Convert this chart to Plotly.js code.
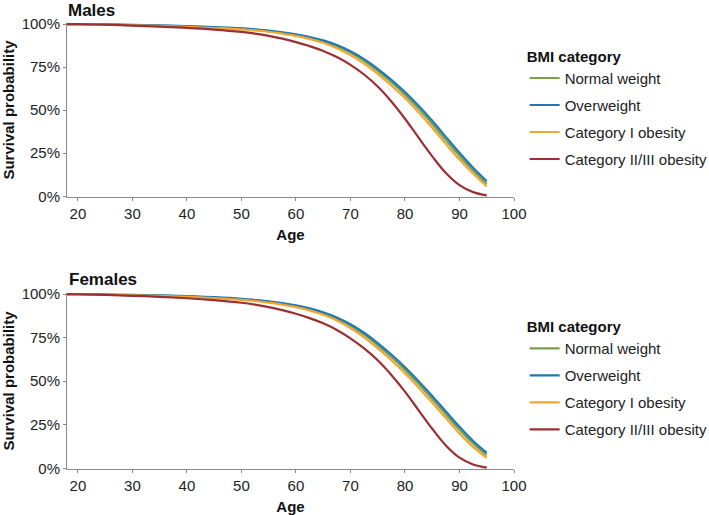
<!DOCTYPE html>
<html>
<head>
<meta charset="utf-8">
<script src="https://cdn.plot.ly/plotly-3.0.1.min.js"></script>
<style>html,body{margin:0;padding:0;background:#fff}#chart{width:709px;height:515px}</style>
</head>
<body>
<div id="chart"></div>
<script>
// ---- data ----
const ages = [18, 20, 25, 30, 35, 40, 45, 50, 52.5, 55, 57.5, 60, 62.5, 65, 67.5, 70, 72.5, 75, 77.5, 80, 82.5, 85, 87.5, 90, 92.5, 95];
const categories = ["Normal weight", "Overweight", "Category I obesity", "Category II/III obesity"];

const maleNormal   = [1, 0.999, 0.997, 0.994, 0.991, 0.987, 0.981, 0.973, 0.967, 0.959, 0.949, 0.937, 0.921, 0.900, 0.871, 0.834, 0.786, 0.728, 0.662, 0.590, 0.508, 0.420, 0.326, 0.234, 0.150, 0.073];
const maleOver     = [1, 0.999, 0.997, 0.995, 0.992, 0.988, 0.982, 0.975, 0.969, 0.962, 0.952, 0.940, 0.925, 0.905, 0.878, 0.842, 0.796, 0.740, 0.676, 0.605, 0.525, 0.438, 0.345, 0.252, 0.165, 0.087];
const maleCat1     = [1, 0.999, 0.996, 0.993, 0.989, 0.984, 0.977, 0.969, 0.963, 0.955, 0.944, 0.931, 0.914, 0.891, 0.860, 0.820, 0.770, 0.710, 0.643, 0.570, 0.487, 0.398, 0.304, 0.213, 0.132, 0.057];
const maleCat23    = [1, 0.999, 0.996, 0.991, 0.985, 0.978, 0.968, 0.954, 0.944, 0.931, 0.915, 0.895, 0.872, 0.844, 0.808, 0.763, 0.707, 0.637, 0.550, 0.450, 0.340, 0.232, 0.135, 0.065, 0.024, 0.005];

const femaleNormal = [1, 0.999, 0.997, 0.994, 0.991, 0.986, 0.980, 0.971, 0.964, 0.955, 0.944, 0.931, 0.913, 0.890, 0.859, 0.818, 0.767, 0.706, 0.639, 0.565, 0.484, 0.398, 0.309, 0.221, 0.142, 0.075];
const femaleOver   = [1, 0.999, 0.997, 0.995, 0.992, 0.988, 0.982, 0.973, 0.966, 0.958, 0.948, 0.935, 0.918, 0.896, 0.866, 0.827, 0.778, 0.719, 0.653, 0.580, 0.500, 0.415, 0.326, 0.238, 0.157, 0.089];
const femaleCat1   = [1, 0.999, 0.996, 0.993, 0.989, 0.984, 0.977, 0.967, 0.960, 0.951, 0.939, 0.925, 0.906, 0.881, 0.848, 0.805, 0.752, 0.689, 0.620, 0.545, 0.463, 0.377, 0.288, 0.200, 0.123, 0.060];
const femaleCat23  = [1, 0.999, 0.995, 0.990, 0.984, 0.976, 0.965, 0.950, 0.939, 0.925, 0.908, 0.887, 0.862, 0.832, 0.794, 0.746, 0.688, 0.620, 0.536, 0.440, 0.333, 0.227, 0.131, 0.061, 0.022, 0.004];

const xTicks = [20, 30, 40, 50, 60, 70, 80, 90, 100];
const yTicks = [0, 0.25, 0.5, 0.75, 1];
const yTickText = ["0%", "25%", "50%", "75%", "100%"];

// ---- styling ----
const colors = ["#77A04A", "#1F78B8", "#F2A531", "#9C2F33"];
const FONT = "Liberation Sans, Arial, Helvetica, sans-serif";
const axisGrey = "#8a8a8a";

const maleSeries = [maleNormal, maleOver, maleCat1, maleCat23];
const femaleSeries = [femaleNormal, femaleOver, femaleCat1, femaleCat23];

const traces = [];
maleSeries.forEach((s, i) => traces.push({
  x: ages, y: s, type: "scatter", mode: "lines", name: categories[i],
  line: {color: colors[i], width: 2.2, shape: "spline", smoothing: 1},
  xaxis: "x", yaxis: "y", legend: "legend", legendgroup: "m" + i
}));
femaleSeries.forEach((s, i) => traces.push({
  x: ages, y: s, type: "scatter", mode: "lines", name: categories[i],
  line: {color: colors[i], width: 2.2, shape: "spline", smoothing: 1},
  xaxis: "x2", yaxis: "y2", legend: "legend2", legendgroup: "f" + i
}));

function xAxis(anchor) {
  return {
    anchor: anchor, domain: [0, 1], range: [18, 100],
    tickvals: xTicks, ticks: "outside", ticklen: 3, tickcolor: axisGrey, tickwidth: 1,
    showline: true, linecolor: axisGrey, linewidth: 1, showgrid: false, zeroline: false,
    tickfont: {family: FONT, size: 15, color: "#222"},
    title: {text: "<b>Age</b>", font: {family: FONT, size: 15, color: "#111"}, standoff: 8},
    automargin: false, fixedrange: true
  };
}
function yAxis(anchor, domain) {
  return {
    anchor: anchor, domain: domain, range: [-0.004, 1.006],
    tickvals: yTicks, ticktext: yTickText, ticks: "outside", ticklen: 3, tickcolor: axisGrey, tickwidth: 1,
    showline: true, linecolor: axisGrey, linewidth: 1, showgrid: false, zeroline: false,
    tickfont: {family: FONT, size: 15, color: "#222"},
    title: {text: "<b>Survival probability</b>", font: {family: FONT, size: 15, color: "#111"}, standoff: 8},
    automargin: false, fixedrange: true
  };
}
function legendCfg(y) {
  return {
    xref: "container", yref: "container",
    x: 0.740, xanchor: "left", y: y, yanchor: "top",
    title: {text: "<b>BMI category</b>", font: {family: FONT, size: 15, color: "#111"}},
    font: {family: FONT, size: 15, color: "#222"},
    traceorder: "grouped", tracegroupgap: 4.5, bgcolor: "rgba(0,0,0,0)", borderwidth: 0
  };
}

const layout = {
  width: 709, height: 515,
  margin: {l: 67, r: 195, t: 23, b: 46},
  paper_bgcolor: "#fff", plot_bgcolor: "#fff",
  showlegend: true,
  xaxis: xAxis("y"),
  yaxis: yAxis("x", [0.61, 1]),
  xaxis2: xAxis("y2"),
  yaxis2: yAxis("x2", [0, 0.3946]),
  legend: legendCfg(0.918),
  legend2: legendCfg(0.393),
  annotations: [
    {text: "<b>Males</b>", xref: "paper", yref: "paper", x: 0, y: 1.0516, xanchor: "left", yanchor: "top",
     borderpad: 0, showarrow: false, font: {family: FONT, size: 17, color: "#111"}},
    {text: "<b>Females</b>", xref: "paper", yref: "paper", x: 0, y: 0.426, xanchor: "left", yanchor: "middle",
     showarrow: false, font: {family: FONT, size: 17, color: "#111"}}
  ]
};

Plotly.newPlot("chart", traces, layout, {displayModeBar: false, staticPlot: true});
</script>
</body>
</html>
